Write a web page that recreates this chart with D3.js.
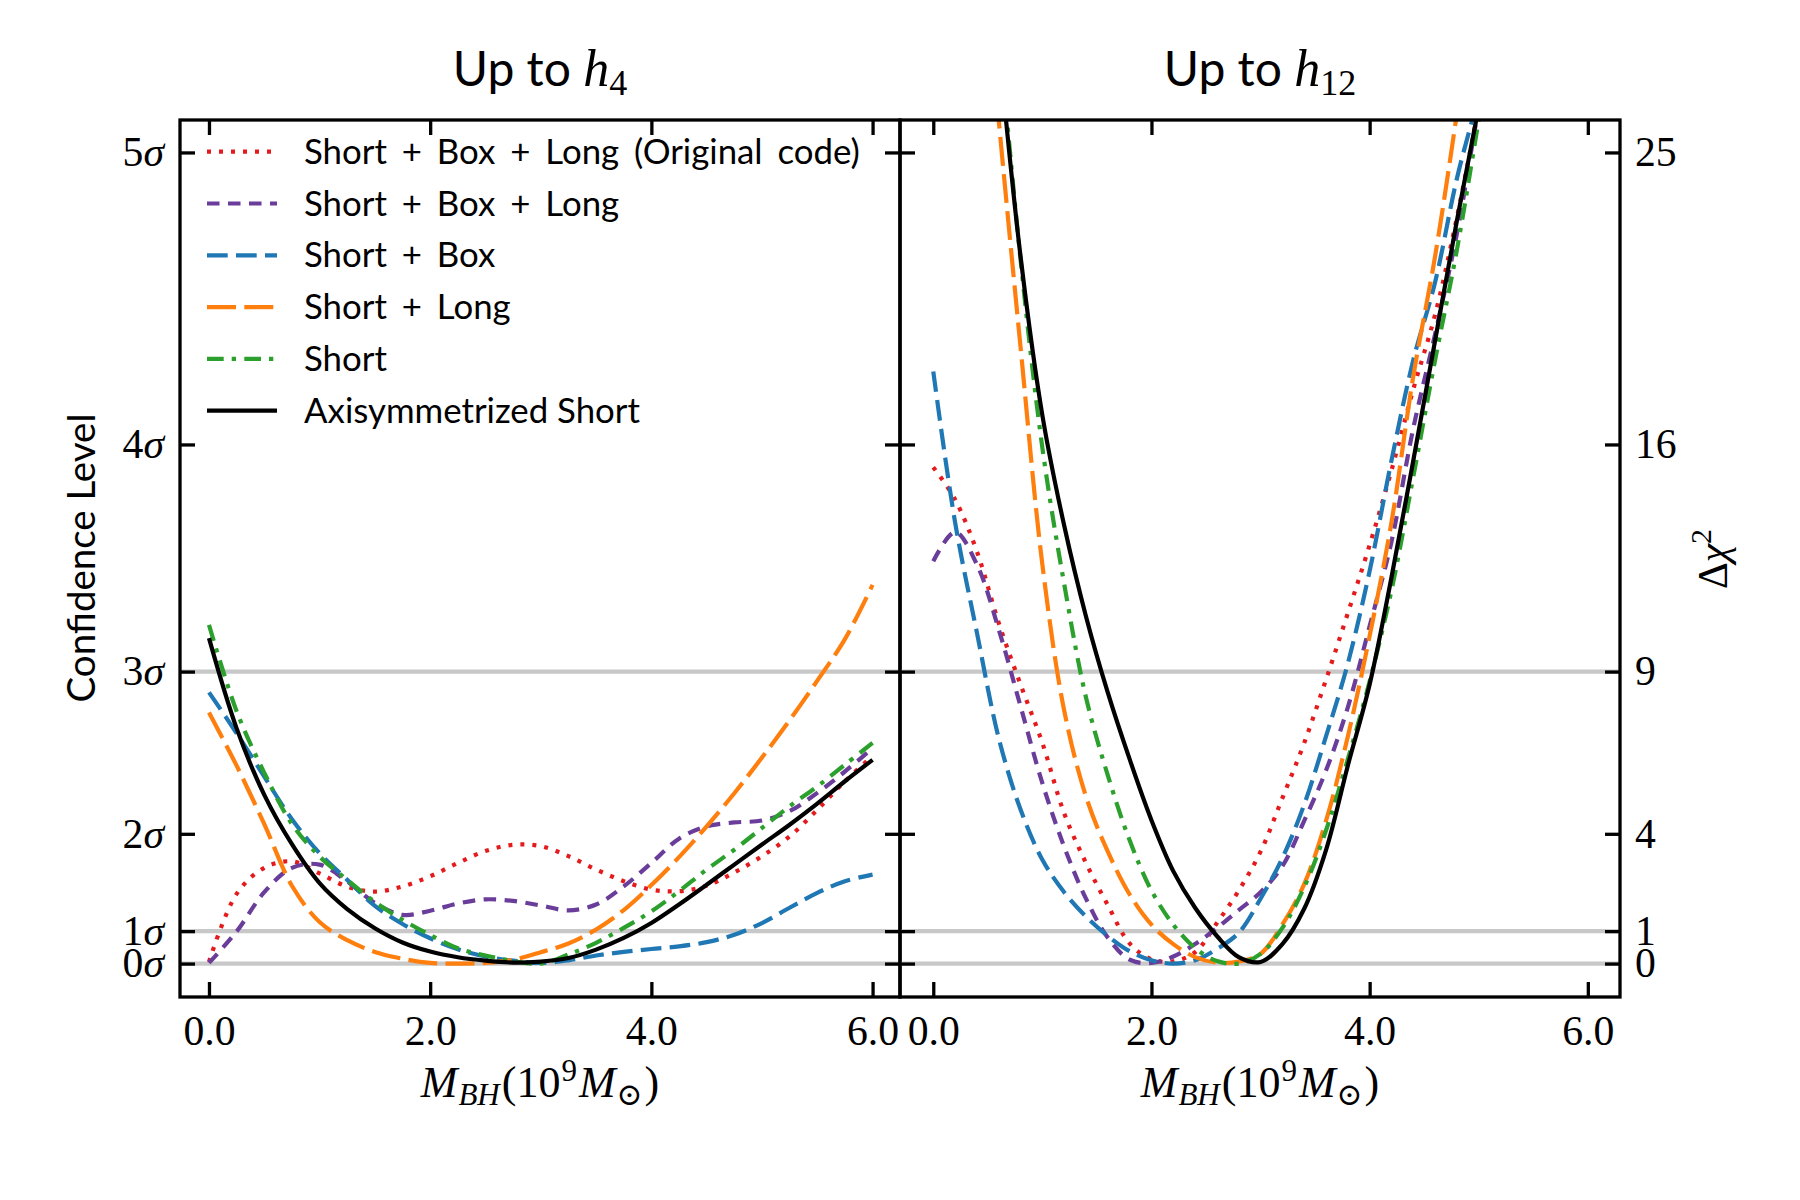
<!DOCTYPE html>
<html>
<head>
<meta charset="utf-8">
<script src="https://cdn.jsdelivr.net/npm/d3@7"></script>
<style>
  body { margin: 0; background: #fff; }
</style>
</head>
<body>
<div id="d3-container"></div>
<script>
/* CONSTANTS AND GLOBALS */
const width = 1800,
  height = 1200,
  plotTop = 120,
  plotBottom = 997,
  panelWidth = 720,
  tickLength = 15,
  lineWidth = 4.2;

const serif = "'Liberation Serif', 'DejaVu Serif', serif";
const sans = "Lato, 'Open Sans', sans-serif";

/* DATA */
// legend order = draw order
const seriesNames = [
  "Short + Box + Long (Original code)",
  "Short + Box + Long",
  "Short + Box",
  "Short + Long",
  "Short",
  "Axisymmetrized Short"
];
const seriesColors = ["#e41a1c", "#6a3d9a", "#1f77b4", "#ff7f0e", "#2ca02c", "#000000"];
const seriesDashes = ["4,8", "12.5,8.5", "20.7,8.3", "29,8.3", "16.7,8,4.3,8.3", null];

// left panel: up to h4 (delta chi^2)
const massH4 = [0, 0.25, 0.5, 0.75, 1, 1.25, 1.5, 1.75, 2, 2.25, 2.5, 2.75, 3,
  3.25, 3.5, 3.75, 4, 4.25, 4.5, 4.75, 5, 5.25, 5.5, 5.75, 6];
const h4Original = [0.05, 2.15, 2.95, 3.15, 2.78, 2.37, 2.22, 2.38, 2.69, 3.1, 3.47, 3.66, 3.62,
  3.31, 2.9, 2.54, 2.28, 2.23, 2.4, 2.81, 3.31, 3.92, 4.74, 5.62, 6.4];
const h4BoxLong = [0.02, 0.99, 2.2, 2.95, 3.05, 2.53, 1.87, 1.5, 1.63, 1.85, 1.98, 1.93, 1.79,
  1.64, 1.82, 2.38, 3.1, 3.85, 4.23, 4.35, 4.41, 4.7, 5.26, 5.92, 6.64];
const h4Box = [8.36, 7.1, 5.76, 4.45, 3.4, 2.58, 1.78, 1.22, 0.78, 0.44, 0.22, 0.09, 0.02,
  0.1, 0.25, 0.36, 0.45, 0.53, 0.66, 0.89, 1.25, 1.72, 2.18, 2.54, 2.74];
const h4Long = [7.74, 6.1, 4.3, 2.4, 1.28, 0.72, 0.36, 0.15, 0.02, 0.0, 0.02, 0.12, 0.35,
  0.62, 1.05, 1.65, 2.42, 3.28, 4.23, 5.25, 6.35, 7.5, 8.72, 10.0, 11.67];
const h4Short = [10.44, 7.78, 5.88, 4.3, 3.3, 2.58, 1.9, 1.35, 0.88, 0.47, 0.25, 0.08, 0.0,
  0.28, 0.64, 1.1, 1.61, 2.23, 2.9, 3.51, 4.18, 4.85, 5.46, 6.13, 6.8];
const h4Axisym = [10.03, 7.25, 5.2, 3.68, 2.48, 1.68, 1.09, 0.65, 0.37, 0.195, 0.09, 0.03, 0.06,
  0.17, 0.43, 0.79, 1.25, 1.82, 2.43, 3.05, 3.67, 4.28, 4.93, 5.62, 6.28];

// right panel: up to h12 (null = way off the top of the plot)
const massH12 = [0, 0.2, 0.4, 0.6, 0.8, 1, 1.2, 1.4, 1.6, 1.8, 2, 2.2, 2.4, 2.6,
  2.8, 3, 3.2, 3.4, 3.6, 3.8, 4, 4.2, 4.4, 4.6, 4.8, 5, 5.2];
const h12Original = [15.3, 14.3, 12.7, 10.5, 8.6, 6.8, 4.63, 3.1, 1.8, 0.62, 0.13, 0.07, 0.35, 1.25,
  2.25, 3.45, 5.1, 6.8, 8.75, 10.8, 12.9, 15.2, 17.7, 20.0, 23.0, 26.4, 30.0];
const h12BoxLong = [12.4, 13.3, 12.3, 10.3, 7.93, 5.56, 3.6, 2.0, 0.8, 0.12, 0.02, 0.22, 0.6, 1.1,
  1.65, 2.2, 3.0, 4.4, 5.95, 7.9, 10.4, 13.0, 16.5, 19.4, 22.5, 26.4, 30.0];
const h12Box = [18.25, 13.6, 10.2, 6.95, 4.75, 3.2, 2.2, 1.45, 0.85, 0.38, 0.1, 0.0, 0.1, 0.45,
  0.95, 2.0, 3.25, 4.9, 7.0, 9.25, 12.1, 15.5, 18.6, 21.0, 24.2, 26.8, 30.0];
const h12Long = [null, null, 33.5, 26.0, 19.0, 12.3, 7.8, 5.15, 3.45, 2.13, 1.2, 0.6, 0.2, 0.03,
  0.06, 0.3, 1.2, 2.45, 4.4, 7.0, 10.1, 13.6, 18.1, 21.8, 26.2, 31.0, null];
const h12Short = [null, null, null, 28.8, 21.7, 15.9, 11.7, 8.2, 5.8, 3.8, 2.25, 1.2, 0.48, 0.08,
  0.0, 0.3, 1.1, 2.35, 4.1, 6.3, 8.7, 11.5, 15.0, 18.6, 22.0, 26.0, 30.0];
const h12Axisym = [null, null, null, 28.3, 21.8, 16.9, 13.5, 10.7, 8.35, 6.3, 4.42, 2.85, 1.72, 0.85,
  0.2, 0.05, 0.6, 1.69, 3.5, 6.1, 8.6, 11.9, 15.5, 19.2, 22.9, 26.4, 30.0];

// axes
const chiTicks = [0, 1, 4, 9, 16, 25];
const sigmaLabels = ["0", "1", "2", "3", "4", "5"];
const refLevels = [0, 1, 9]; // gray guide lines
const massTicks = [0, 2, 4, 6];

const panels = [
  { left: 180, xDomain: [-0.262, 6.248], xs: massH4, sub: "4",
    series: [h4Original, h4BoxLong, h4Box, h4Long, h4Short, h4Axisym] },
  { left: 900, xDomain: [-0.305, 6.295], xs: massH12, sub: "12",
    series: [h12Original, h12BoxLong, h12Box, h12Long, h12Short, h12Axisym] }
];

let svg;
let yScale;

/* INITIALIZING FUNCTION */
function init() {
  svg = d3
    .select("#d3-container")
    .append("svg")
    .attr("width", width)
    .attr("height", height)
    .style("background", "#fff");

  yScale = d3
    .scaleLinear()
    .domain([-1.03, 26])
    .range([plotBottom, plotTop]);

  panels.forEach((p, i) => drawPanel(p, i));
  drawLegend();
  drawLabels();
}

function drawPanel(p, i) {
  const xScale = d3
    .scaleLinear()
    .domain(p.xDomain)
    .range([p.left, p.left + panelWidth]);

  const g = svg.append("g").attr("class", `panel panel-${i}`);

  g.append("clipPath")
    .attr("id", `clip-${i}`)
    .append("rect")
    .attr("x", p.left)
    .attr("y", plotTop)
    .attr("width", panelWidth)
    .attr("height", plotBottom - plotTop);

  // gray reference lines at 0, 1 and 3 sigma
  g.selectAll("line.ref")
    .data(refLevels)
    .join("line")
    .attr("class", "ref")
    .attr("x1", p.left)
    .attr("x2", p.left + panelWidth)
    .attr("y1", d => yScale(d))
    .attr("y2", d => yScale(d))
    .attr("stroke", "#c8c8c8")
    .attr("stroke-width", 4.2);

  const lineFunc = d3
    .line()
    .defined(d => d.y != null)
    .x(d => xScale(d.x))
    .y(d => yScale(d.y))
    .curve(d3.curveCatmullRom.alpha(0.5));

  g.append("g")
    .attr("clip-path", `url(#clip-${i})`)
    .selectAll("path.trend")
    .data(p.series)
    .join("path")
    .attr("class", "trend")
    .attr("fill", "none")
    .attr("stroke", (d, k) => seriesColors[k])
    .attr("stroke-width", lineWidth)
    .attr("stroke-dasharray", (d, k) => seriesDashes[k])
    .attr("d", d => lineFunc(p.xs.map((x, j) => ({ x: x, y: d[j] }))));

  // ticks point inwards on every side
  const xAxis = d3
    .axisBottom(xScale)
    .tickValues(massTicks)
    .tickSizeInner(-tickLength)
    .tickSizeOuter(0)
    .tickPadding(18)
    .tickFormat(d3.format(".1f"));

  const bottom = g
    .append("g")
    .attr("class", "axis x-axis")
    .attr("transform", `translate(0,${plotBottom})`)
    .call(xAxis);

  const top = g
    .append("g")
    .attr("transform", `translate(0,${plotTop})`)
    .call(d3.axisTop(xScale).tickValues(massTicks).tickSizeInner(-tickLength).tickSizeOuter(0).tickFormat(""));

  const left = g
    .append("g")
    .attr("transform", `translate(${p.left},0)`)
    .call(d3.axisLeft(yScale).tickValues(chiTicks).tickSizeInner(-tickLength).tickSizeOuter(0).tickPadding(16));

  const right = g
    .append("g")
    .attr("transform", `translate(${p.left + panelWidth},0)`)
    .call(d3.axisRight(yScale).tickValues(chiTicks).tickSizeInner(-tickLength).tickSizeOuter(0).tickPadding(15));

  [bottom, top, left, right].forEach(a => {
    a.select(".domain").remove();
    a.selectAll(".tick line").attr("stroke-width", 3.3);
    a.attr("font-family", serif).attr("font-size", 41.7);
    a.selectAll(".tick text").attr("fill", "#000");
  });

  if (i === 0) {
    right.selectAll(".tick text").remove();
    left.selectAll(".tick text").each(function(d, k) {
      const t = d3.select(this).text(null);
      t.append("tspan").text(sigmaLabels[k]);
      t.append("tspan").attr("font-style", "italic").text("σ");
    });
  } else {
    left.selectAll(".tick text").remove();
  }

  g.append("rect")
    .attr("x", p.left)
    .attr("y", plotTop)
    .attr("width", panelWidth)
    .attr("height", plotBottom - plotTop)
    .attr("fill", "none")
    .attr("stroke", "#000")
    .attr("stroke-width", 3.3);

  // title: Up to h_n
  const title = g
    .append("text")
    .attr("x", p.left + panelWidth / 2)
    .attr("y", 86)
    .attr("text-anchor", "middle");
  title.append("tspan").attr("font-family", sans).attr("font-size", 48).text("Up to ");
  title.append("tspan").attr("font-family", serif).attr("font-style", "italic").attr("font-size", 52).text("h");
  title.append("tspan").attr("font-family", serif).attr("font-size", 36).attr("dy", 9).text(p.sub);

  // x label: M_BH (10^9 M_sun)
  const xl = g
    .append("text")
    .attr("x", p.left + panelWidth / 2)
    .attr("y", 1097)
    .attr("text-anchor", "middle")
    .attr("font-family", serif)
    .attr("font-size", 44);
  xl.append("tspan").attr("font-style", "italic").text("M");
  xl.append("tspan").attr("font-style", "italic").attr("font-size", 31).attr("dy", 8).attr("dx", 1).text("BH");
  xl.append("tspan").attr("dy", -8).attr("dx", 2).text("(10");
  xl.append("tspan").attr("font-size", 31).attr("dy", -16).attr("dx", 1).text("9");
  xl.append("tspan").attr("font-style", "italic").attr("dy", 16).attr("dx", 2).text("M");
  xl.append("tspan").attr("font-size", 31).attr("dy", 8).attr("dx", 1).text("⊙");
  xl.append("tspan").attr("dy", -8).attr("dx", 2).text(")");
}

function drawLegend() {
  const rows = svg
    .append("g")
    .attr("class", "legend")
    .selectAll("g")
    .data(seriesNames)
    .join("g")
    .attr("transform", (d, k) => `translate(0,${151.7 + k * 51.8})`);

  rows.append("line")
    .attr("x1", 207)
    .attr("x2", 277)
    .attr("stroke", (d, k) => seriesColors[k])
    .attr("stroke-width", lineWidth)
    .attr("stroke-dasharray", (d, k) => seriesDashes[k]);

  // the plus signs get wider spacing, like math-mode "+"
  rows.append("text")
    .attr("x", 304)
    .attr("dy", "0.35em")
    .attr("font-family", sans)
    .attr("font-size", 34.8)
    .attr("word-spacing", d => (d.includes("+") ? 6 : 0))
    .text(d => d);
}

function drawLabels() {
  svg.append("text")
    .attr("transform", "translate(95,558) rotate(-90)")
    .attr("text-anchor", "middle")
    .attr("font-family", sans)
    .attr("font-size", 38.5)
    .text("Confidence Level");

  const rl = svg
    .append("text")
    .attr("transform", "translate(1727,559) rotate(-90)")
    .attr("text-anchor", "middle")
    .attr("font-family", serif)
    .attr("font-size", 41.7);
  rl.append("tspan").text("Δ");
  rl.append("tspan").attr("font-style", "italic").text("χ");
  rl.append("tspan").attr("font-size", 30).attr("dy", -16).text("2");
}

init();
</script>
</body>
</html>
